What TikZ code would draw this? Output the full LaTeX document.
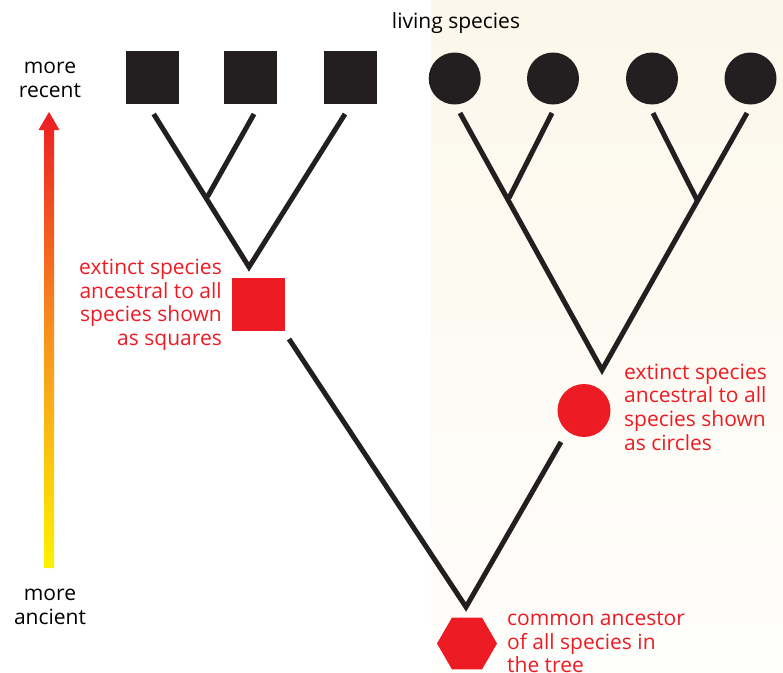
\documentclass[tikz,border=0pt]{standalone}
\usepackage{fontspec}
\setmainfont{Open Sans}
\usetikzlibrary{shapes.geometric}
\definecolor{inkblack}{RGB}{35,31,32}
\definecolor{inkred}{RGB}{237,28,36}
\definecolor{beige}{RGB}{252,247,234}
\definecolor{offwhite}{RGB}{254,254,252}
\definecolor{arrowred}{RGB}{237,28,36}
\definecolor{arroworange}{RGB}{247,148,29}
\definecolor{arrowyellow}{RGB}{255,242,0}
\begin{document}
\begin{tikzpicture}[x=1pt,y=-1pt,
  txt/.style={inner sep=0pt, font=\fontsize{21}{23.6}\selectfont},
  redtxt/.style={txt, text=inkred},
  livesq/.style={rectangle, fill=inkblack, minimum size=53pt, inner sep=0pt},
  livecirc/.style={circle, fill=inkblack, minimum size=52pt, inner sep=0pt},
  branch/.style={draw=inkblack, line width=5pt, line join=miter}]
\useasboundingbox (0,0) rectangle (783,672);
% background panel
\shade[top color=beige, bottom color=offwhite] (431,0) rectangle (783,672);
% time arrow
\shade[top color=arrowred, bottom color=arrowyellow, middle color=arroworange]
  (44,568) -- (44,130) -- (38.5,130) -- (49,112) -- (59.5,130) -- (54,130) -- (54,568) -- cycle;
\node[txt, align=center] (recent) at (50,80) {more\\recent};
\node[txt, align=center] (ancient) at (50,607) {more\\ancient};
% living species
\node[txt] (living) at (456,23) {living species};
\node[livesq] (s1) at (152.3,77.5) {};
\node[livesq] (s2) at (250.6,77.5) {};
\node[livesq] (s3) at (350.5,77.5) {};
\node[livecirc] (c1) at (454.7,78.5) {};
\node[livecirc] (c2) at (553,78.5) {};
\node[livecirc] (c3) at (652,78.5) {};
\node[livecirc] (c4) at (750.5,78.5) {};
% ancestors
\node[rectangle, fill=inkred, minimum size=53pt, inner sep=0pt] (asq) at (258.7,304.2) {};
\node[circle, fill=inkred, minimum size=53pt, inner sep=0pt] (acirc) at (584,410.5) {};
\node[regular polygon, regular polygon sides=6, fill=inkred,
  minimum size=60pt, inner sep=0pt] (root) at (467,643.5) {};
% branch end points
\coordinate (e1) at (153.7,114);
\coordinate (e2) at (254,114);
\coordinate (e3) at (345,114);
\coordinate (j1) at (207.5,196.7);
\coordinate (a1) at (249,267);
\coordinate (f1) at (460,113);
\coordinate (f2) at (552,113);
\coordinate (f3) at (653,113);
\coordinate (f4) at (747,113);
\coordinate (k1) at (509,198);
\coordinate (k2) at (697,200);
\coordinate (a2) at (602,370);
\coordinate (g1) at (289,339);
\coordinate (g2) at (561,442);
\coordinate (a3) at (466,607);
% branches
\draw[branch] (e1) -- (a1) -- (e3);
\draw[branch] (e2) -- (j1);
\draw[branch] (f1) -- (a2) -- (f4);
\draw[branch] (f2) -- (k1);
\draw[branch] (f3) -- (k2);
\draw[branch] (g1) -- (a3) -- (g2);
% labels
\node[redtxt, align=right, anchor=east] (lsq) at (222,305) {extinct species\\ancestral to all\\species shown\\as squares};
\node[redtxt, align=left, anchor=west] (lcirc) at (624,407) {extinct species\\ancestral to all\\species shown\\as circles};
\node[redtxt, align=left, anchor=west] (lroot) at (507,642.5) {common ancestor\\of all species in\\the tree};
\end{tikzpicture}
\end{document}
